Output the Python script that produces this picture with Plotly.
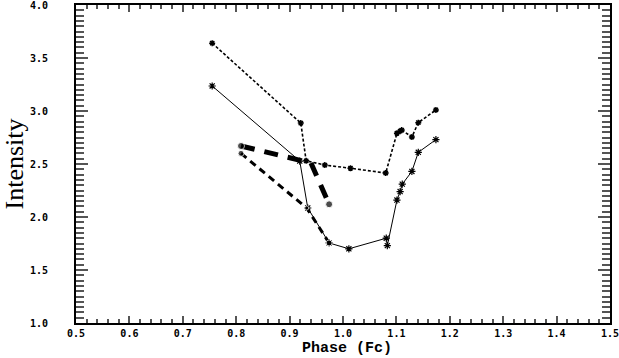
import plotly.graph_objects as go

# Phase / intensity values
phase_a = [0.755, 0.919, 0.934, 0.974, 1.011, 1.081, 1.083, 1.101, 1.107, 1.111, 1.129, 1.141, 1.174]
inten_a = [3.236, 2.528, 2.085, 1.755, 1.700, 1.800, 1.730, 2.160, 2.240, 2.310, 2.430, 2.610, 2.730]

phase_b = [0.755, 0.921, 0.931, 0.966, 1.014, 1.080, 1.101, 1.107, 1.110, 1.129, 1.141, 1.174]
inten_b = [3.640, 2.886, 2.530, 2.490, 2.460, 2.415, 2.790, 2.810, 2.820, 2.755, 2.890, 3.010]

phase_c = [0.809, 0.932, 0.974]
inten_c = [2.600, 2.085, 1.755]

phase_d = [0.809, 0.925, 0.940, 0.974]
inten_d = [2.670, 2.530, 2.510, 2.120]

x_ticks = [0.5, 0.6, 0.7, 0.8, 0.9, 1.0, 1.1, 1.2, 1.3, 1.4, 1.5]
y_ticks = [1.0, 1.5, 2.0, 2.5, 3.0, 3.5, 4.0]

tick_font = dict(family="DejaVu Sans Mono", size=10, color="black", weight="bold")
tick_col = "#555"

fig = go.Figure()

fig.add_trace(go.Scatter(
    x=phase_a, y=inten_a, mode="lines+markers",
    line=dict(color="black", width=1),
    marker=dict(symbol="asterisk-open", size=6, line=dict(color="#333", width=1.2)),
))
fig.add_trace(go.Scatter(
    x=phase_b, y=inten_b, mode="lines+markers",
    line=dict(color="black", width=1.6, dash="3px,2px"),
    marker=dict(symbol="asterisk-open", size=5, line=dict(color="black", width=1.5)),
))
fig.add_trace(go.Scatter(
    x=phase_c, y=inten_c, mode="lines+markers",
    line=dict(color="black", width=3, dash="7px,5px"),
    marker=dict(symbol="circle", size=[6, 4, 6], color="black"),
))
fig.add_trace(go.Scatter(
    x=phase_d, y=inten_d, mode="lines+markers",
    line=dict(color="black", width=5, dash="14px,10px"),
    marker=dict(symbol="circle", size=[7, 0, 0, 7], color="black"),
))

# bare top / right axes so the minor ticks appear on all four sides
fig.add_trace(go.Scatter(x=[None], y=[None], xaxis="x2", yaxis="y2", showlegend=False))

common = dict(showgrid=False, zeroline=False, showline=True, linecolor="black",
              linewidth=2, ticks="inside", tickwidth=1.5, tickcolor=tick_col,
              automargin=False, tickformat=".1f", ticklabeloverflow="allow")

fig.update_layout(
    width=619, height=358,
    margin=dict(l=76, r=9, t=5, b=35),
    paper_bgcolor="white", plot_bgcolor="white",
    showlegend=False,
    xaxis=dict(
        range=[0.5, 1.5], tickvals=x_ticks, ticklen=7,
        minor=dict(dtick=0.02, ticks="inside", ticklen=4, tickwidth=1.5, tickcolor=tick_col),
        tickfont=tick_font, ticklabelstandoff=0,
        **common,
    ),
    yaxis=dict(
        range=[1.0, 4.0], tickvals=y_ticks, ticklen=12,
        minor=dict(dtick=0.05, ticks="inside", ticklen=8, tickwidth=1.5, tickcolor=tick_col),
        tickfont=tick_font, ticklabelstandoff=24,
        title=dict(text="Intensity", standoff=10,
                   font=dict(family="Liberation Serif", size=26, color="black")),
        **common,
    ),
    xaxis2=dict(
        range=[0.5, 1.5], tickvals=x_ticks, ticklen=7, overlaying="x", side="top",
        anchor="y2", showticklabels=False,
        minor=dict(dtick=0.02, ticks="inside", ticklen=4, tickwidth=1.5, tickcolor=tick_col),
        **common,
    ),
    yaxis2=dict(
        range=[1.0, 4.0], tickvals=y_ticks, ticklen=12, overlaying="y", side="right",
        anchor="x2", showticklabels=False,
        minor=dict(dtick=0.05, ticks="inside", ticklen=8, tickwidth=1.5, tickcolor=tick_col),
        **common,
    ),
)

# x title as an annotation at the bottom edge, below the tick labels
fig.add_annotation(
    text="Phase (Fc)", xref="paper", yref="paper", x=0.507, y=-0.110,
    xanchor="center", yanchor="bottom", showarrow=False, borderpad=0,
    font=dict(family="Liberation Mono", size=15, color="black", weight="bold"),
)

# drop the page's default body margin so the figure sits at the window corner
fig.write_html("out.html", config={"displayModeBar": False},
               post_script="document.body.style.margin='0';")
